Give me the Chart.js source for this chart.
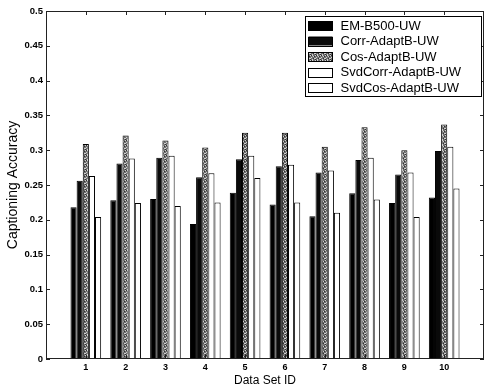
<!DOCTYPE html>
<html><head><meta charset="utf-8">
<script src="https://cdn.jsdelivr.net/npm/chart.js@4/dist/chart.umd.min.js"></script>
<style>html,body{margin:0;padding:0;background:#fff}#wrap{width:484px;height:389px}</style>
</head><body><div id="wrap"><canvas id="c" width="484" height="389"></canvas></div>
<script>
const dataSetIds = [1, 2, 3, 4, 5, 6, 7, 8, 9, 10];
const seriesNames = ['EM-B500-UW', 'Corr-AdaptB-UW', 'Cos-AdaptB-UW', 'SvdCorr-AdaptB-UW', 'SvdCos-AdaptB-UW'];
const emB500    = [0.218, 0.228, 0.230, 0.194, 0.239, 0.222, 0.205, 0.238, 0.224, 0.232];
const corrAdapt = [0.256, 0.281, 0.289, 0.261, 0.287, 0.277, 0.268, 0.286, 0.265, 0.299];
const cosAdapt  = [0.309, 0.321, 0.314, 0.304, 0.325, 0.325, 0.305, 0.333, 0.300, 0.337];
const svdCorr   = [0.263, 0.288, 0.292, 0.267, 0.292, 0.279, 0.271, 0.289, 0.268, 0.305];
const svdCos    = [0.204, 0.224, 0.220, 0.225, 0.260, 0.225, 0.210, 0.229, 0.204, 0.245];
const yTickValues = [0, 0.05, 0.1, 0.15, 0.2, 0.25, 0.3, 0.35, 0.4, 0.45, 0.5];
const seriesValues = [emB500, corrAdapt, cosAdapt, svdCorr, svdCos];

// speckled grey pattern (deterministic)
function makePattern() {
  const pc = document.createElement('canvas');
  pc.width = 5; pc.height = 5;
  const p = pc.getContext('2d');
  p.fillStyle = '#707070'; p.fillRect(0, 0, 5, 5);
  p.fillStyle = '#d0d0d0';
  [[0,0],[3,1],[1,2],[4,3],[2,4],[2,0],[0,3]].forEach(([x,y]) => p.fillRect(x, y, 1, 1));
  p.fillStyle = '#303030';
  [[1,0],[4,1],[3,3],[0,4]].forEach(([x,y]) => p.fillRect(x, y, 1, 1));
  return p.createPattern(pc, 'repeat');
}
const ctx = document.getElementById('c').getContext('2d');
const greyPat = makePattern();
const fills = ['#000000', '#0a0a0a', greyPat, '#ffffff', '#ffffff'];

const datasets = seriesNames.map((name, i) => ({
  label: name,
  data: dataSetIds.map((id, j) => ({ x: id, y: seriesValues[i][j] })),
  backgroundColor: fills[i],
  borderColor: '#000',
  borderWidth: 1,
  categoryPercentage: 0.77,
  barPercentage: 1.0,
  borderSkipped: 'bottom'
}));

const FONT = "'Liberation Sans', Arial, sans-serif";

const framePlugin = {
  id: 'frame',
  afterDraw(chart) {
    const c = chart.ctx, a = chart.chartArea;
    const xs = chart.scales.x, ys = chart.scales.y;
    c.save();
    c.strokeStyle = '#222';
    c.lineWidth = 1;
    c.beginPath();
    c.moveTo(a.left, a.top + 0.5); c.lineTo(a.right, a.top + 0.5);
    c.moveTo(a.right - 0.5, a.top); c.lineTo(a.right - 0.5, a.bottom);
    c.moveTo(a.left + 0.5, a.top); c.lineTo(a.left + 0.5, a.bottom);
    c.moveTo(a.left, a.bottom - 0.5); c.lineTo(a.right, a.bottom - 0.5);
    ys.ticks.forEach((t, i) => {
      const py = Math.round(ys.getPixelForTick(i)) + 0.5;
      c.moveTo(a.left, py); c.lineTo(a.left + 4, py);
      c.moveTo(a.right, py); c.lineTo(a.right - 4, py);
    });
    dataSetIds.forEach(id => {
      const px = Math.round(xs.getPixelForValue(id)) + 0.5;
      c.moveTo(px, a.top); c.lineTo(px, a.top + 4);
      c.moveTo(px, a.bottom); c.lineTo(px, a.bottom - 4);
    });
    c.stroke();

    // legend box
    const bx = 305.5, by = 16.5, bw = 176, bh = 80;
    c.fillStyle = '#fff';
    c.fillRect(bx, by, bw, bh);
    c.strokeStyle = '#000';
    c.strokeRect(bx, by, bw, bh);
    c.font = '13px ' + FONT;
    c.textBaseline = 'middle';
    chart.data.datasets.forEach((ds, i) => {
      const cy = by + 9 + i * 15.5;
      c.fillStyle = ds.backgroundColor;
      c.fillRect(bx + 3, cy - 4.5, 24, 9);
      c.strokeStyle = '#000';
      c.strokeRect(bx + 3, Math.round(cy - 4.5) + 0.5, 24, 9);
      c.fillStyle = '#000';
      c.fillText(ds.label, bx + 35, cy + 0.5);
    });
    c.restore();
  }
};

new Chart(ctx, {
  type: 'bar',
  data: { datasets },
  options: {
    responsive: false,
    animation: false,
    layout: { padding: { top: 11, right: 0, left: 0, bottom: 0 } },
    plugins: { legend: { display: false }, tooltip: { enabled: false } },
    scales: {
      x: {
        type: 'linear',
        min: 0, max: 11,
        offset: false,
        grid: { display: false, drawTicks: false },
        border: { display: false },
        afterBuildTicks(s) { s.ticks = dataSetIds.map(v => ({ value: v })); },
        afterFit(s) { s.height = 30; },
        ticks: {
          padding: 3,
          autoSkip: false,
          maxRotation: 0,
          color: '#000',
          font: { family: FONT, size: 9, weight: 'bold' },
          callback: v => String(v)
        },
        title: {
          display: true, text: 'Data Set ID', color: '#000',
          font: { family: FONT, size: 12 },
          padding: { top: 0, bottom: 1 }
        }
      },
      y: {
        min: 0, max: 0.5,
        grid: { display: false, drawTicks: false },
        border: { display: false },
        afterBuildTicks(s) { s.ticks = yTickValues.map(v => ({ value: v })); },
        afterFit(s) { s.width = 46; },
        ticks: {
          padding: 3,
          color: '#000',
          font: { family: FONT, size: 9.5, weight: 'bold' },
          callback: v => String(+v.toFixed(2))
        },
        title: {
          display: true, text: 'Captioning Accuracy', color: '#000',
          font: { family: FONT, size: 14 },
          padding: { top: 5, bottom: 0 }
        }
      }
    }
  },
  plugins: [framePlugin]
});
</script>
</body></html>
